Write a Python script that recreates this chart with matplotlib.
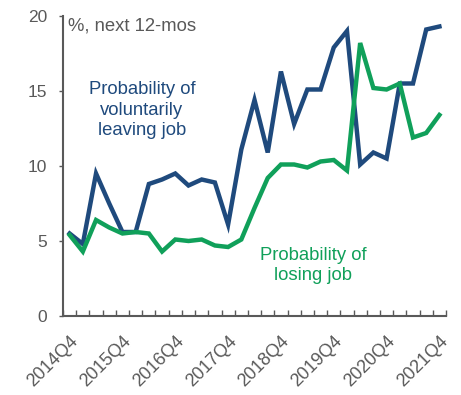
import numpy as np
import matplotlib.pyplot as plt

plt.rcParams['font.family'] = ['Liberation Sans', 'DejaVu Sans']

# quarterly survey, 2014Q4 to 2021Q4
quarters = [f'{y}Q{q}' for y in range(2014, 2022) for q in range(1, 5)][3:]
leaving = [5.5, 4.8, 9.5, 7.5, 5.6, 5.6, 8.8, 9.1, 9.5, 8.7, 9.1, 8.9,
           6.1, 11.1, 14.4, 10.9, 16.3, 12.8, 15.1, 15.1, 17.9, 19.0,
           10.1, 10.9, 10.5, 15.5, 15.5, 19.1, 19.3]
losing = [5.4, 4.3, 6.4, 5.9, 5.5, 5.6, 5.5, 4.3, 5.1, 5.0, 5.1, 4.7,
          4.6, 5.1, 7.2, 9.2, 10.1, 10.1, 9.9, 10.3, 10.4, 9.7,
          18.2, 15.2, 15.1, 15.5, 11.9, 12.2, 13.4]

blue = '#1f4a7d'
green = '#10a05a'
grey = '#595959'

fig = plt.figure(figsize=(4.61, 3.95), dpi=100)
ax = fig.add_axes([0.1367, 0.2, 0.8308, 0.7595])

x = np.arange(len(quarters))
ax.plot(x, leaving, color=blue, lw=3.2, solid_joinstyle='miter')
ax.plot(x, losing, color=green, lw=3.2, solid_joinstyle='miter')

ax.set_xlim(-0.5, len(quarters) - 0.5)
ax.set_ylim(0, 20)
ax.set_yticks([0, 5, 10, 15, 20])

# labels every fourth quarter, tick marks between categories
ax.set_xticks(x[::4])
ax.set_xticklabels(quarters[::4], rotation=45, ha='right',
                   rotation_mode='anchor')
ax.set_xticks(np.arange(-0.5, len(quarters)), minor=True)
ax.tick_params(axis='x', which='major', length=0, pad=12,
               labelsize=13, labelcolor=grey)
ax.tick_params(axis='x', which='minor', direction='in', length=4,
               width=1, color=grey)
ax.tick_params(axis='y', direction='out', length=3, width=1, color=grey,
               labelsize=12.5, labelcolor=grey, pad=8.5)

for side in ['top', 'right']:
    ax.spines[side].set_visible(False)
for side in ['left', 'bottom']:
    ax.spines[side].set_color(grey)
    ax.spines[side].set_linewidth(1.5)

ax.text(-0.15, 19.33, '%, next 12-mos', color=grey, fontsize=13.3,
        ha='left', va='center')
ax.text(5.48, 13.73, 'Probability of\nvoluntarily\nleaving job', color=blue,
        fontsize=13.3, ha='center', va='center', linespacing=1.25)
ax.text(18.45, 3.37, 'Probability of\nlosing job', color=green,
        fontsize=13.3, ha='center', va='center', linespacing=1.25)

fig.savefig('out.png', dpi=100)
